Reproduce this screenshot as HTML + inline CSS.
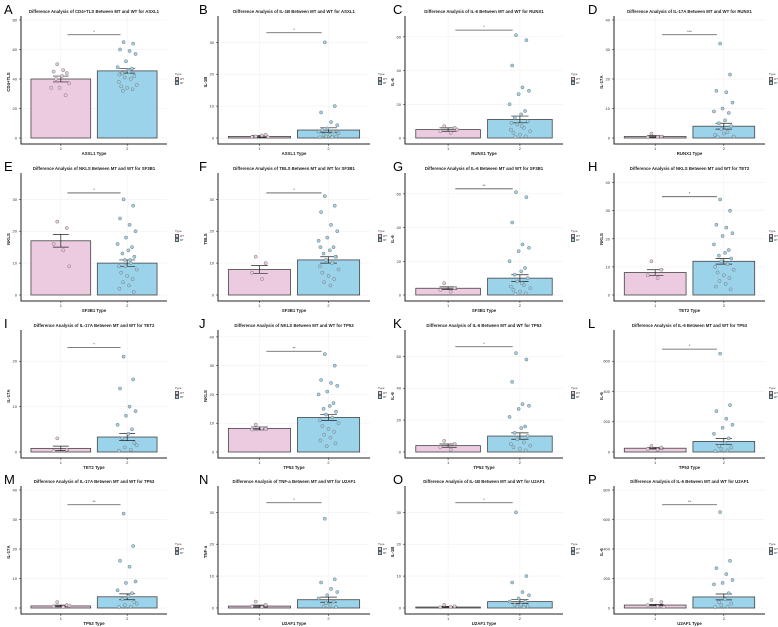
<!DOCTYPE html>
<html><head><meta charset="utf-8"><style>
html,body{margin:0;padding:0;background:#fff}
svg{display:block;font-family:"Liberation Sans",Arial,sans-serif}
</style></head><body>
<svg id="fig" width="778" height="627" viewBox="0 0 778 627"></svg>
<script>
const letters=["A","B","C","D","E","F","G","H","I","J","K","L","M","N","O","P"];
const markers=["CD4+TLS","IL-1B","IL-6","IL-17A","NKLS","TBLS","IL-6","NKLS","IL-17A","NKLS","IL-6","IL-6","IL-17A","TNF-a","IL-1B","IL-6"];
const genes=["ASXL1","ASXL1","RUNX1","RUNX1","SF3B1","SF3B1","SF3B1","TET2","TET2","TP53","TP53","TP53","TP53","U2AF1","U2AF1","U2AF1"];
const sigs=["*","*","*","***","*","*","**","*","*","**","*","*","**","*","*","**"];
const sigLevels=[70,33,64,35,32,32,63,35,23,35,66,680,35,33,33,700];
const domainMax=[80,37,70,40,37,37,70,42,26,41,74,780,40,37,37,800];
const ticks=[[0,20,40,60,80],[0,10,20,30],[0,20,40,60],[0,10,20,30,40],[0,10,20,30],[0,10,20,30],[0,20,40,60],[0,10,20,30,40],[0,10,20],[0,10,20,30,40],[0,20,40,60],[0,200,400,600],[0,10,20,30,40],[0,10,20,30],[0,10,20,30],[0,200,400,600,800]];
const mean1=[40,0.5,5,0.5,17,8,4,8,0.8,8.2,4,25,0.7,0.6,0.3,20];
const mean2=[45.5,2.5,11,4,10,11,10,12,3.3,12,10,70,3.8,2.6,2,75];
const err1=[2,0.3,1,0.3,2,1.2,0.8,1,0.5,0.5,1,5,0.3,0.3,0.2,5];
const err2=[1.5,0.7,2,1,1,1,2,1,0.8,1,2,20,1,0.8,0.6,20];
const pts1=[[50,44,45,46,37,34,34,29,42,40],[0.5,1,0.3,0.8,0.2],[7,6,4,3,5],[1.5,0.5,0.2,0.3],[23,21,16,14,9],[12,10,7,5],[7,4,3,2],[12,9,7,6],[3,0.5,0.2],[9.5,8,7.8,8.2],[7,5,3,1.5],[40,30,20,15],[2,1,0.5,0.3,0.8],[2,1,0.5,0.3],[1,0.5,0.2,0.3],[55,40,20,10,5]];
const pts2=[[65,64,60,59,57,52,48,47,46,44,42,41,40,38,36,35,34,33,32,45,43],
[30,10,8,5,4,3,2,2,1,1,0.5,0.5,0.3,0.2,1.5,2.5],
[61,58,43,30,28,26,20,16,14,12,10,8,6,5,4,3,2,1,0.5,7,9],
[32,21.5,16,15.5,12,10,9,8.5,6,5,4,3,2,1,0.5,0.3,1.5],
[30,28,24,22,20,18,16,15,14,13,12,11,10,9,8,7,6,5,4,3,2,1,9,11],
[31,28,26,22,20,18,17,15,14,13,12,11,10,9,8,7,6,5,4,3,15,12],
[61,58,43,30,28,26,20,16,14,12,10,8,6,5,4,3,2,1,0.5,7],
[34,30,25,24,22,21,18,16,15,14,13,12,11,10,9,8,7,6,5,4,3,2],
[21,16,14,10,9,8,6,5,4,3,2,1,0.5,0.3,1.5],
[34,30,25,24,23,21,20,17,16,15,14,13,12,11,10,9,8,7,6,5,4,3,2],
[62,58,44,30,29,27,22,16,15,12,10,8,6,5,4,3,2,1],
[650,310,270,220,180,160,120,90,60,40,30,20,10,5],
[32,21,16,14,9,8.5,6,5,4,3,2,1,0.5,0.3,1.5],
[28,9,8,6,5,4,3,2,1,0.5,0.3,1.5],
[30,10,8,5,4,3,2,2,1,1,0.5,0.5,0.3],
[650,320,270,230,190,170,160,100,60,40,30,20,10,5]];
const jit=[-0.3,0.5,-0.6,0.2,0.7,-0.1,-0.8,0.4,0.1,-0.4,0.6,-0.2,0.3,-0.7,0.8,-0.5,0,0.45,-0.35,0.15,-0.65,0.55,-0.15,0.25];
const NS="http://www.w3.org/2000/svg";
const svg=document.getElementById('fig');
function mk(tag,attrs,parent,text){const e=document.createElementNS(NS,tag);for(const k in attrs)e.setAttribute(k,attrs[k]);if(text!==undefined)e.textContent=text;(parent||svg).appendChild(e);return e;}
const colOx=[0,195,389,584],rowOy=[0,157,314,470];
const axL=[21,23,16,30],axR=[167,175,174,181];
for(let i=0;i<16;i++){
  const c=i%4,r=Math.floor(i/4),ox=colOx[c],oy=rowOy[r];
  const g=mk('g',{},svg);
  
  
  const xl=ox+axL[c],xr=ox+axR[c];
  const y0=oy+138,yt=oy+20;
  const ys=v=>y0-v/domainMax[i]*(y0-yt);
  const xs=p=>xl+(p-0.4)/2.2*(xr-xl);
  const L=mk('text',{x:ox+4,y:oy+14,'font-size':13,fill:'#000'},g,letters[i]);
  
  const T=mk('text',{x:(xl+xr)/2,y:oy+13,'font-size':4.3,'font-weight':'bold','text-anchor':'middle',fill:'#222'},g,'Difference Analysis of '+markers[i]+' Between MT and WT for '+genes[i]);
  
  ticks[i].forEach(t=>{const gl=mk('line',{x1:xl,x2:xr,y1:ys(t),y2:ys(t),stroke:'#eee','stroke-width':0.5},g);
    const tl=mk('text',{x:xl-4,y:ys(t)+1.5,'font-size':4,'text-anchor':'end',fill:'#333'},g,t);
    mk('line',{x1:xl-2,x2:xl,y1:ys(t),y2:ys(t),stroke:'#333','stroke-width':0.6},g);});
  [1,2].forEach(p=>mk('line',{x1:xs(p),x2:xs(p),y1:yt-4,y2:oy+144,stroke:'#eee','stroke-width':0.5},g));
  [[1,mean1[i],err1[i],'#eccbe1',pts1[i]],[2,mean2[i],err2[i],'#9bd3eb',pts2[i]]].forEach(([p,m,e,col,pts])=>{
    const b=mk('rect',{x:xs(p-0.45),y:ys(m),width:xs(p+0.45)-xs(p-0.45),height:y0-ys(m),fill:col,stroke:'#444','stroke-width':0.8},g);
    
    const eb=mk('path',{d:`M${xs(p-0.12)},${ys(m+e)}H${xs(p+0.12)}M${xs(p)},${ys(m+e)}V${ys(m-e)}M${xs(p-0.12)},${ys(m-e)}H${xs(p+0.12)}`,stroke:'#222','stroke-width':0.7,fill:'none'},g);
    
    pts.forEach((v,k)=>{const d=mk('circle',{cx:xs(p+jit[k%jit.length]*0.18),cy:ys(v),r:1.6,fill:col,stroke:'#777','stroke-width':0.5},g);
      });
    const xt=mk('text',{x:xs(p),y:oy+150,'font-size':4,'text-anchor':'middle',fill:'#333'},g,p);
    mk('line',{x1:xs(p),x2:xs(p),y1:oy+144,y2:oy+146,stroke:'#333','stroke-width':0.6},g);
  });
  const sl=mk('line',{x1:xs(1.1),x2:xs(1.9),y1:ys(sigLevels[i]),y2:ys(sigLevels[i]),stroke:'#555','stroke-width':0.8},g);
  
  const st=mk('text',{x:xs(1.5),y:ys(sigLevels[i])-2,'font-size':4,'text-anchor':'middle',fill:'#333'},g,sigs[i]);
  
  const ax=mk('path',{d:`M${xl},${yt-4}V${oy+144}H${xr}`,stroke:'#222','stroke-width':1,fill:'none'},g);
  
  const xtitle=mk('text',{x:(xl+xr)/2,y:oy+155,'font-size':4.3,'font-weight':'bold','text-anchor':'middle',fill:'#222'},g,genes[i]+' Type');
  
  const yy=(yt+oy+144)/2;
  const ytitle=mk('text',{x:xl-11,y:yy,'font-size':4.3,'font-weight':'bold','text-anchor':'middle',fill:'#222',transform:`rotate(-90 ${xl-11} ${yy})`},g,markers[i]);
  
  const lg=mk('g',{},g);
  const lx=xr+(c==3?4:8);
  mk('text',{x:lx,y:oy+75,'font-size':3,fill:'#333'},lg,'Type');
  mk('rect',{x:lx,y:oy+77,width:4,height:4,fill:'#555'},lg);
  mk('circle',{cx:lx+2,cy:oy+79,r:1.2,fill:'#eccbe1'},lg);
  mk('rect',{x:lx,y:oy+81,width:4,height:4,fill:'#555'},lg);
  mk('circle',{cx:lx+2,cy:oy+83,r:1.2,fill:'#9bd3eb'},lg);
  mk('text',{x:lx+5,y:oy+80,'font-size':2.5,fill:'#333'},lg,'WT');
  mk('text',{x:lx+5,y:oy+84,'font-size':2.5,fill:'#333'},lg,'MT');
}
</script>
</body></html>
